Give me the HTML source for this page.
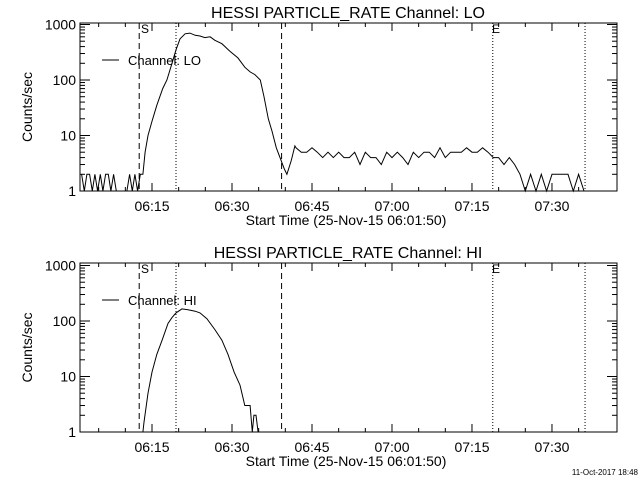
<!DOCTYPE html>
<html><head><meta charset="utf-8"><style>
body{margin:0;background:#fff;width:640px;height:480px;overflow:hidden}
svg{display:block;font-family:"Liberation Sans",sans-serif}
</style></head><body>
<svg id="c" width="640" height="480" viewBox="0 0 640 480"></svg>
<script>
// data: time in minutes after 06:00, counts/sec
const tickLabels=["06:15","06:30","06:45","07:00","07:15","07:30"];
const tickMinutes=[15,30,45,60,75,90];
const yTickValues=[1,10,100,1000];
const yTickLabels=["1","10","100","1000"];
const markerDashed=[12.6,39.3];
const markerDotted=[19.5,78.9,96.2];
const loT=[1.8,2.3,2.8,3.3,3.8,4.3,4.8,5.3,5.8,6.3,6.8,7.3,7.8,8.3,8.8,9.3,9.8,10.3,10.8,11.3,11.8,12.3,12.8,13.3,13.7,14.25,15,15.9,17,17.8,18.75,19.5,20.25,21.2,22.1,23.1,24,24.9,25.9,26.8,28.1,29.6,31.1,32.4,33.4,34.3,35.3,36,36.8,37.5,38.3,39,39.8,40.3,41.1,41.8,
42,43,44,45,46,47,48,49,50,51,52,53,54,55,56,57,58,59,60,61,62,63,64,65,66,67,68,69,70,71,72,73,74,75,76,77,78,79,80,81,82,83,84,85,86,87,88,89,90,91,92,93,94,95,96];
const loV=[2,1,2,2,1,2,1,2,1,2,2,1,2,1,1,1,1,1,2,1,2,1,2,2,5,10,18,35,70,100,200,350,550,680,700,640,620,580,600,520,450,330,250,170,140,125,100,50,20,12,6,4,2.5,2,3.5,6.5,
6,5,5,6,5,4,5,4,5,4,4,5,3,5,4,4,3,5,4,5,4,3,5,4,5,5,4,6,4,5,5,5,6,5,5,6,5,4,4,3,4,3,2,1,2,1,2,1,2,2,2,2,1,2,1,2];
const hiT=[13.3,13.5,14.25,15,15.9,16.9,18,18.75,19.5,20.6,21.75,23.1,24,25.3,26.8,28.1,29.25,30.4,31.5,32.4,33.4,33.8,34.1,34.5,34.9];
const hiV=[0.9,1.5,5,12,25,45,90,115,140,165,160,150,140,110,70,45,25,12,7,3,3,1,2,2,0.9];

const svg=document.getElementById('c');
const NS='http://www.w3.org/2000/svg';
function mk(tag,attrs,parent){const e=document.createElementNS(NS,tag);for(const k in attrs)e.setAttribute(k,attrs[k]);(parent||svg).appendChild(e);return e;}
const X0=80,X1=617;
function xs(t){return 152+(t-15)*5.333;}

function panel(top,bottom,name,label,T,V){
  const g=mk('g',{});
  
  
  const ys=v=>bottom-Math.log10(Math.max(v,1))*55.5;
  const frame=mk('rect',{x:X0,y:top,width:X1-X0,height:bottom-top,fill:'none',stroke:'#000','stroke-width':1},g);
  
  
  const ti=mk('text',{x:348,y:top-5,'text-anchor':'middle','font-size':16},g);
  ti.textContent='HESSI PARTICLE_RATE Channel: '+label;
  
  
  for(let m=5;m<=95;m+=5){const x=xs(m);if(x<X0||x>X1)continue;const L=(m%15===0)?8:4;
    mk('line',{x1:x,y1:bottom,x2:x,y2:bottom-L,stroke:'#000'},g);mk('line',{x1:x,y1:top,x2:x,y2:top+L,stroke:'#000'},g);}
  tickMinutes.forEach((m,i)=>{const t=mk('text',{x:xs(m),y:bottom+20,'text-anchor':'middle','font-size':14},g);t.textContent=tickLabels[i];
    
    });
  const xt=mk('text',{x:346,y:bottom+34,'text-anchor':'middle','font-size':14},g);xt.textContent='Start Time (25-Nov-15 06:01:50)';
  
  
  for(let d=0;d<3;d++)for(let k=1;k<=10;k++){const v=Math.pow(10,d)*k;const y=ys(v);const L=(k===1||k===10)?10:5;
    mk('line',{x1:X0,y1:y,x2:X0+L,y2:y,stroke:'#000'},g);mk('line',{x1:X1,y1:y,x2:X1-L,y2:y,stroke:'#000'},g);}
  yTickValues.forEach((v,i)=>{const t=mk('text',{x:76,y:ys(v)+5,'text-anchor':'end','font-size':14},g);t.textContent=yTickLabels[i];
    
    });
  const yt=mk('text',{x:0,y:0,'text-anchor':'middle','font-size':14,transform:`translate(32,${(top+bottom)/2}) rotate(-90)`},g);yt.textContent='Counts/sec';
  
  
  markerDashed.forEach(m=>{const l=mk('line',{x1:xs(m),y1:top,x2:xs(m),y2:bottom,stroke:'#000','stroke-dasharray':'6,4'},g);
    
    });
  markerDotted.forEach(m=>{const l=mk('line',{x1:xs(m),y1:top,x2:xs(m),y2:bottom,stroke:'#000','stroke-dasharray':'1,2'},g);
    
    });
  const s=mk('text',{x:141,y:top+10,'font-size':12},g);s.textContent='S';
  
  
  const e=mk('text',{x:492,y:top+10,'font-size':12},g);e.textContent='E';
  
  
  mk('line',{x1:102,y1:top+37,x2:119,y2:top+37,stroke:'#000'},g);
  const lg=mk('text',{x:128,y:top+42,'font-size':13},g);lg.textContent='Channel: '+label;
  
  
  const pts=T.map((t,i)=>xs(t).toFixed(1)+','+ys(V[i]).toFixed(1)).join(' ');
  const pl=mk('polyline',{points:pts,fill:'none',stroke:'#000','stroke-width':1},g);
  
  
}
panel(23,191,'lo','LO',loT,loV);
panel(263,432,'hi','HI',hiT,hiV);
const ft=mk('text',{x:638,y:475,'text-anchor':'end','font-size':8});
ft.textContent='11-Oct-2017 18:48';


</script>
</body></html>
